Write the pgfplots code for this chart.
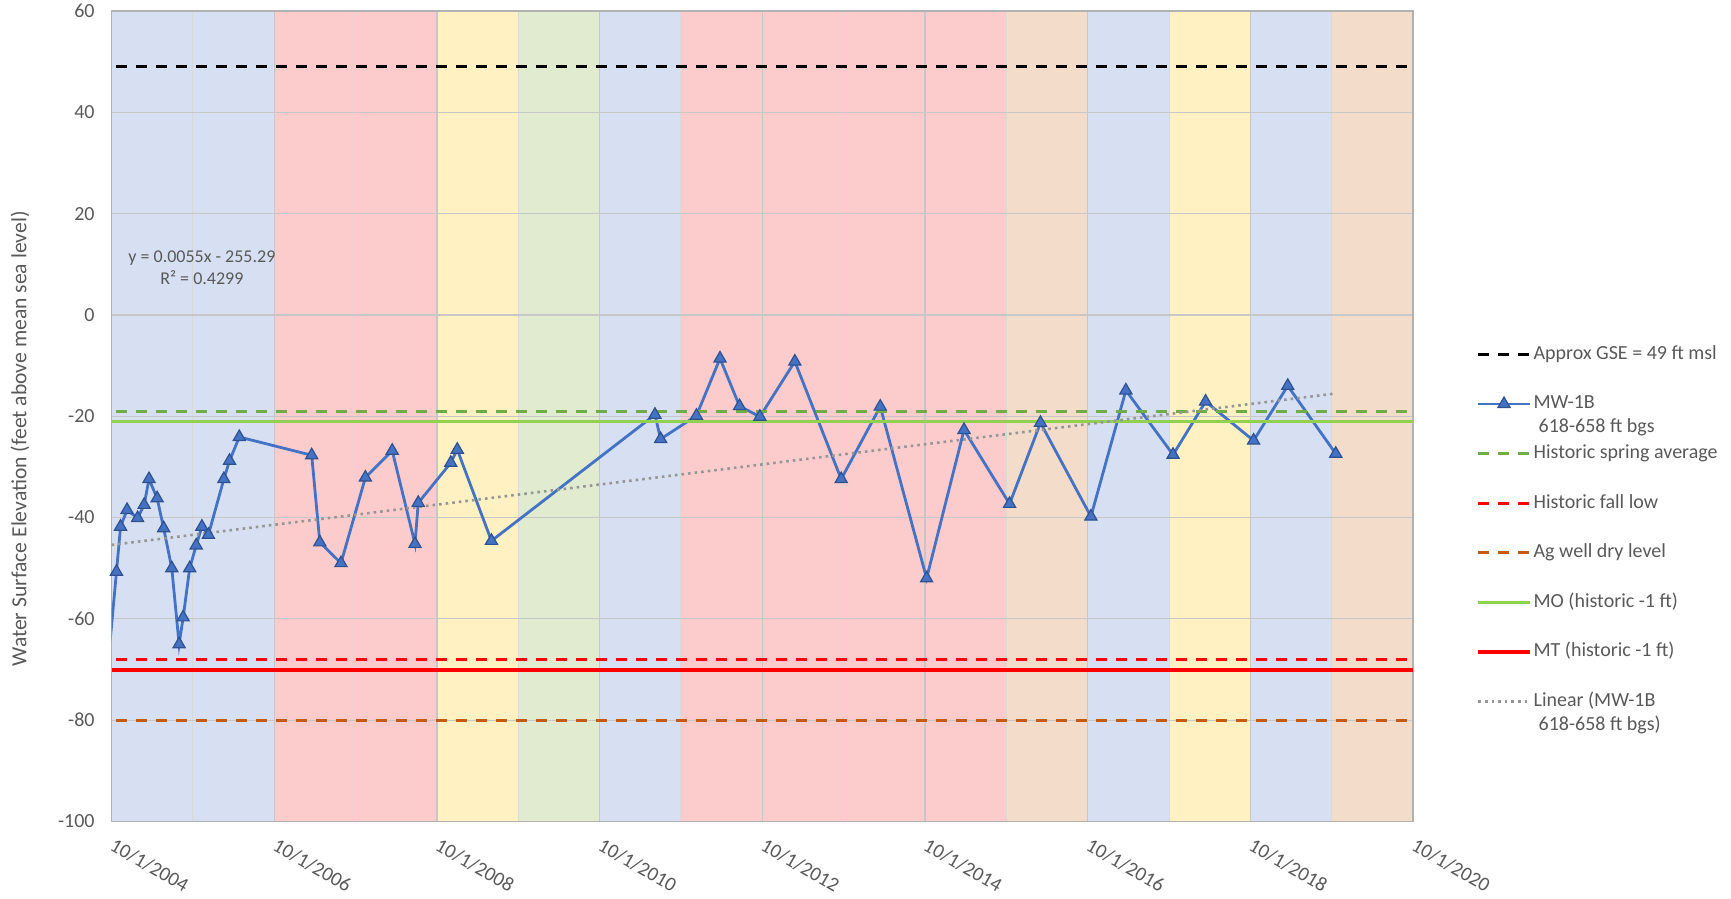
\documentclass[border=0pt]{standalone}
\usepackage{pgfplots}
\pgfplotsset{compat=1.18}
\usepackage{fontspec}
\setmainfont{Carlito}

\definecolor{txt}{RGB}{89,89,89}
\definecolor{bandblue}{RGB}{214,224,242}
\definecolor{bandred}{RGB}{252,204,204}
\definecolor{bandyellow}{RGB}{255,241,194}
\definecolor{bandgreen}{RGB}{224,235,208}
\definecolor{bandpeach}{RGB}{244,220,202}
\definecolor{seriesblue}{RGB}{68,114,196}
\definecolor{markedge}{RGB}{47,82,143}
\definecolor{springgreen}{RGB}{112,173,71}
\definecolor{mogreen}{RGB}{146,208,80}
\definecolor{agorange}{RGB}{197,90,17}
\definecolor{trendgray}{RGB}{150,150,150}

\pgfplotsset{
  band/.style={draw=none, fill=#1, forget plot, on layer=axis background},
  refdash/.style={line width=1.5pt, dash pattern=on 5.5pt off 4.5pt},
}

\begin{document}
\begin{tikzpicture}
\begin{axis}[
  name=ax,
  set layers,
  scale only axis,
  width=650.7pt, height=405.25pt,
  xmin=2004.75, xmax=2020.75,
  ymin=-100, ymax=60,
  xtick={2004.75,2006.75,2008.75,2010.75,2012.75,2014.75,2016.75,2018.75,2020.75},
  xticklabels={10/1/2004,10/1/2006,10/1/2008,10/1/2010,10/1/2012,10/1/2014,10/1/2016,10/1/2018,10/1/2020},
  minor xtick={2005.75,2007.75,2009.75,2011.75,2013.75,2015.75,2017.75,2019.75},
  ytick={-100,-80,-60,-40,-20,0,20,40,60},
  xmajorgrids, xminorgrids, ymajorgrids,
  grid style={draw=black!22, line width=0.6pt},
  minor grid style={draw=black!15, line width=0.5pt},
  major tick length=0pt, minor tick length=0pt,
  axis line style={draw=black!30, line width=0.8pt},
  tick label style={font=\fontsize{10}{12}\selectfont, text=txt},
  /pgf/number format/assume math mode=true,
  xticklabel style={anchor=north west, xshift=0.8pt, yshift=-3.1pt, rotate=-30},
  yticklabel style={xshift=-5pt},
  ylabel={Water Surface Elevation (feet above mean sea level)},
  ylabel style={at={(rel axis cs:-0.0704,0.472)}, anchor=center, rotate=0,
    font=\fontsize{10.8}{13}\selectfont, text=txt},
  legend cell align=left,
  legend image code/.code={\draw[mark repeat=2,mark phase=2,#1] plot coordinates {(0cm,0cm) (0.45cm,0cm) (0.9cm,0cm)};},
  legend style={at={(1,1)}, anchor=north west, xshift=31.5pt, yshift=-166pt,
    draw=none, fill=none, inner sep=0pt, row sep=13.8pt, column sep=0pt,
    font=\fontsize{10}{12}\selectfont, text=txt,
    nodes={inner sep=1pt, text height=7pt, text depth=2pt}},
]

% water-year background bands
\addplot[band=bandblue]   coordinates {(2004.75,-100) (2004.75,60) (2006.75,60) (2006.75,-100)} -- cycle;
\addplot[band=bandred]    coordinates {(2006.75,-100) (2006.75,60) (2008.75,60) (2008.75,-100)} -- cycle;
\addplot[band=bandyellow] coordinates {(2008.75,-100) (2008.75,60) (2009.75,60) (2009.75,-100)} -- cycle;
\addplot[band=bandgreen]  coordinates {(2009.75,-100) (2009.75,60) (2010.75,60) (2010.75,-100)} -- cycle;
\addplot[band=bandblue]   coordinates {(2010.75,-100) (2010.75,60) (2011.75,60) (2011.75,-100)} -- cycle;
\addplot[band=bandred]    coordinates {(2011.75,-100) (2011.75,60) (2015.75,60) (2015.75,-100)} -- cycle;
\addplot[band=bandpeach]  coordinates {(2015.75,-100) (2015.75,60) (2016.75,60) (2016.75,-100)} -- cycle;
\addplot[band=bandblue]   coordinates {(2016.75,-100) (2016.75,60) (2017.75,60) (2017.75,-100)} -- cycle;
\addplot[band=bandyellow] coordinates {(2017.75,-100) (2017.75,60) (2018.75,60) (2018.75,-100)} -- cycle;
\addplot[band=bandblue]   coordinates {(2018.75,-100) (2018.75,60) (2019.75,60) (2019.75,-100)} -- cycle;
\addplot[band=bandpeach]  coordinates {(2019.75,-100) (2019.75,60) (2020.75,60) (2020.75,-100)} -- cycle;

\addplot[black, refdash] coordinates {(2004.80,49) (2020.75,49)};
\addlegendentry{Approx GSE = 49 ft msl}

\addplot[seriesblue, line width=1.4pt, mark=triangle*, mark size=3.5pt,
  mark options={solid, fill=seriesblue, draw=markedge, line width=0.6pt}]
  coordinates {
  (2004.70,-70.0) (2004.81,-50.7) (2004.86,-41.8) (2004.94,-38.5) (2005.07,-40.1)
  (2005.15,-37.5) (2005.21,-32.4) (2005.31,-36.2) (2005.39,-42.1) (2005.49,-50.0)
  (2005.58,-65.0) (2005.63,-59.7) (2005.71,-50.0) (2005.79,-45.5) (2005.86,-41.8)
  (2005.94,-43.4) (2006.13,-32.4) (2006.20,-28.8) (2006.32,-24.1) (2007.21,-27.7)
  (2007.31,-44.9) (2007.57,-49.0) (2007.87,-32.1) (2008.20,-26.8) (2008.48,-45.2)
  (2008.52,-37.1) (2008.92,-29.2) (2009.00,-26.6) (2009.42,-44.6) (2011.43,-19.7)
  (2011.50,-24.5) (2011.94,-19.9) (2012.23,-8.6) (2012.47,-18.0) (2012.72,-20.1)
  (2013.15,-9.2) (2013.72,-32.4) (2014.20,-18.1) (2014.77,-52.0) (2015.23,-22.7)
  (2015.79,-37.3) (2016.17,-21.3) (2016.79,-39.8) (2017.22,-14.9) (2017.80,-27.6)
  (2018.20,-17.1) (2018.79,-24.8) (2019.21,-14.0) (2019.80,-27.4)
  };
\addlegendentry{\smash{\begin{tabular}[t]{@{}l@{}}MW-1B\\\hspace{2.5pt}618-658 ft bgs\end{tabular}}}

\addplot[springgreen, refdash] coordinates {(2004.80,-19) (2020.75,-19)};
\addlegendentry{Historic spring average}

\addplot[red, refdash] coordinates {(2004.80,-68) (2020.75,-68)};
\addlegendentry{Historic fall low}

\addplot[agorange, refdash] coordinates {(2004.80,-80) (2020.75,-80)};
\addlegendentry{Ag well dry level}

\addplot[mogreen, line width=1.5pt] coordinates {(2004.75,-21) (2020.75,-21)};
\addlegendentry{MO (historic -1 ft)}

\addplot[red, line width=2pt] coordinates {(2004.75,-70) (2020.75,-70)};
\addlegendentry{MT (historic -1 ft)}

\addplot[trendgray, line width=1.3pt, dash pattern=on 1.3pt off 2pt] coordinates {(2004.75,-45.4) (2019.80,-15.5)};
\addlegendentry{\smash{\begin{tabular}[t]{@{}l@{}}Linear (MW-1B\\\hspace{2.5pt}618-658 ft bgs)\end{tabular}}}

\node[font=\fontsize{9}{11}\selectfont, text=txt, align=center] at (axis cs:2005.86,9.4)
  {y = 0.0055x - 255.29\\R² = 0.4299};
\end{axis}
\pgfresetboundingbox
\path ([xshift=-55.8pt, yshift=-38.25pt]ax.south west) rectangle ([xshift=159pt, yshift=5.5pt]ax.north east);
\end{tikzpicture}
\end{document}
